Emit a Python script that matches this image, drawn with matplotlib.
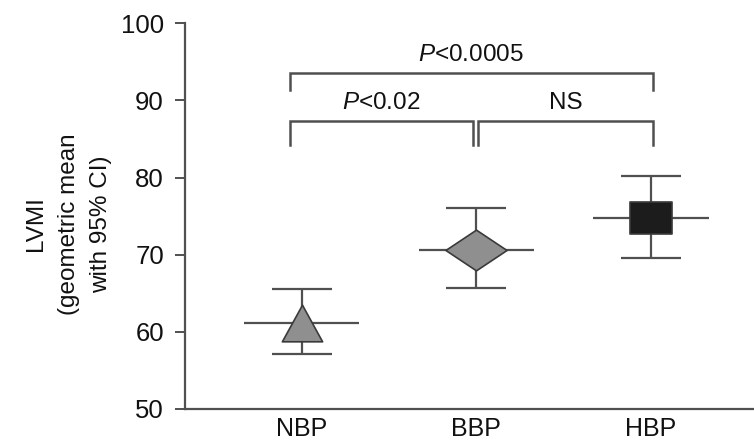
import numpy as np
import matplotlib
matplotlib.use("Agg")
import matplotlib.pyplot as plt
from matplotlib.path import Path

plt.rcParams['font.family'] = ['Liberation Sans', 'DejaVu Sans']
plt.rcParams['mathtext.fontset'] = 'custom'
plt.rcParams['mathtext.it'] = 'Liberation Sans:italic'
plt.rcParams['mathtext.rm'] = 'Liberation Sans'

# data
groups = ['NBP', 'BBP', 'HBP']
gmean = [61.1, 70.6, 74.7]
ci_low = [57.1, 65.7, 69.6]
ci_high = [65.5, 76.0, 80.2]
face = ['#8f8f8f', '#8f8f8f', '#1c1c1c']

# significance brackets: (x left, x right, top, leg bottom, label)
brackets = [(0.93, 3.01, 93.5, 91.4, r'$P$<0.0005'),
            (0.93, 1.98, 87.3, 84.2, r'$P$<0.02'),
            (2.01, 3.01, 87.3, 84.2, 'NS')]

line_c = '#505050'
txt_c = '#111111'

tri = Path([(0, 1), (-1.1, -1), (1.1, -1), (0, 1)], closed=True)
dia = Path([(-1.5, 0), (0, 1), (1.5, 0), (0, -1), (-1.5, 0)], closed=True)
sq = Path([(-1.3, -1), (1.3, -1), (1.3, 1), (-1.3, 1), (-1.3, -1)], closed=True)
markers = [(tri, 29), (dia, 44), (sq, 30)]

fig = plt.figure(figsize=(7.54, 4.46), dpi=100)
ax = fig.add_axes([0.245, 0.083, 0.755, 0.865])

x = np.arange(1, len(groups) + 1)
for i in range(len(groups)):
    ax.errorbar(x[i], gmean[i],
                yerr=[[gmean[i] - ci_low[i]], [ci_high[i] - gmean[i]]],
                fmt='none', ecolor=line_c, elinewidth=1.6, capsize=21.5,
                capthick=1.6, zorder=2)
    ax.hlines(gmean[i], x[i] - 0.33, x[i] + 0.33, color=line_c, lw=1.6, zorder=2)
    m, ms = markers[i]
    ax.plot(x[i], gmean[i], marker=m, ms=ms, mfc=face[i], mec='#3a3a3a',
            mew=1.2, ls='none', zorder=3)

for x0, x1, top, bot, lab in brackets:
    ax.plot([x0, x0, x1, x1], [bot, top, top, bot], color=line_c, lw=1.8,
            solid_joinstyle='miter', clip_on=False)
    ax.text((x0 + x1) / 2, top + 0.9, lab, ha='center', va='bottom',
            fontsize=17.5, color=txt_c)

ax.set_xlim(0.33, 3.59)
ax.set_ylim(50, 100)
ax.set_yticks([50, 60, 70, 80, 90, 100])
ax.set_xticks(x)
ax.set_xticklabels(groups)
ax.tick_params(axis='y', length=7, width=1.4, color=line_c, labelsize=18.5,
               pad=8, labelcolor=txt_c)
ax.tick_params(axis='x', length=0, labelsize=18, pad=6, labelcolor=txt_c)
ax.spines['top'].set_visible(False)
ax.spines['right'].set_visible(False)
ax.spines['left'].set_color(line_c)
ax.spines['bottom'].set_color(line_c)
ax.spines['left'].set_linewidth(1.6)
ax.spines['bottom'].set_linewidth(1.6)
ax.set_ylabel('LVMI\n(geometric mean\nwith 95% CI)', fontsize=17.5,
              color=txt_c, linespacing=1.6)
ax.yaxis.set_label_coords(-0.128, 0.48)

fig.savefig('out.png', dpi=100)
